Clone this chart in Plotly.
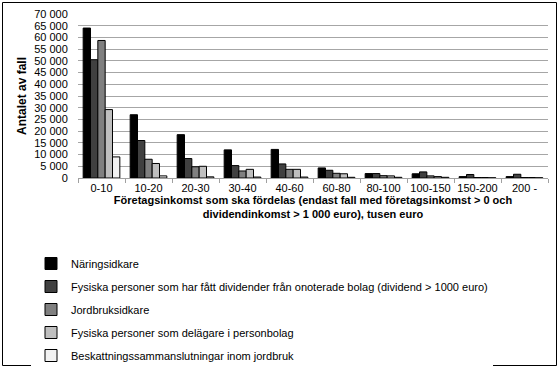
import plotly.graph_objects as go

categories = ["0-10", "10-20", "20-30", "30-40", "40-60", "60-80", "80-100", "100-150", "150-200", "200 -"]
series_names = [
    "Näringsidkare",
    "Fysiska personer som har fått dividender från onoterade bolag (dividend > 1000 euro)",
    "Jordbruksidkare",
    "Fysiska personer som delägare i personbolag",
    "Beskattningssammanslutningar inom jordbruk",
]
naringsidkare = [64000, 27000, 18500, 12000, 12200, 4300, 1900, 1800, 600, 600]
fysiska_dividend = [50500, 16000, 8300, 5300, 6000, 3300, 1900, 2600, 1500, 1600]
jordbruksidkare = [58700, 8000, 4800, 3000, 3700, 2000, 1000, 900, 200, 200]
fysiska_personbolag = [29200, 6200, 5000, 3700, 3700, 1800, 900, 600, 200, 200]
beskattning = [9000, 900, 500, 400, 400, 300, 300, 300, 100, 100]
y_ticks = list(range(0, 70001, 5000))
y_tick_labels = [f"{v:,}".replace(",", " ") for v in y_ticks]

colors = ["#000000", "#404040", "#808080", "#bfbfbf", "#f2f2f2"]
all_series = [naringsidkare, fysiska_dividend, jordbruksidkare, fysiska_personbolag, beskattning]

fig = go.Figure()
for i, (name, vals) in enumerate(zip(series_names, all_series)):
    fig.add_trace(go.Bar(
        x=categories, y=vals, name=name,
        marker=dict(color=colors[i], line=dict(color="#000000", width=1)),
        legendgroup=f"g{i}",
    ))

L, R, T, B = 78, 12, 14, 190
W, H = 560, 368
pw, ph = W - L - R, H - T - B

def px(x):
    return (x - L) / pw

def py(y):
    return (H - B - y) / ph

fig.update_layout(
    width=W, height=H,
    margin=dict(l=L, r=R, t=T, b=B, autoexpand=False),
    paper_bgcolor="white", plot_bgcolor="white",
    font=dict(family="Liberation Sans, Arial, sans-serif", size=11, color="#000000"),
    barmode="group", bargap=0.22, bargroupgap=0,
    showlegend=True,
    legend=dict(
        orientation="v", x=px(31), y=py(249), xanchor="left", yanchor="top",
        font=dict(size=11), tracegroupgap=4, traceorder="grouped",
        itemwidth=30,
    ),
    xaxis=dict(
        type="category", tickson="boundaries", ticks="outside", ticklen=4,
        tickcolor="#a0a0a0", showline=True, linecolor="#a0a0a0", linewidth=1,
        showgrid=False, tickfont=dict(size=11), tickangle=0,
        title=dict(
            text="<b>Företagsinkomst som ska fördelas (endast fall med företagsinkomst > 0 och<br>dividendinkomst > 1 000 euro), tusen euro</b>",
            font=dict(size=11), standoff=2,
        ),
    ),
    yaxis=dict(
        range=[0, 70000], tickvals=y_ticks, ticktext=y_tick_labels,
        showgrid=True, gridcolor="#a6a6a6", gridwidth=1,
        showline=False, zeroline=False, ticks="outside", ticklen=7,
        tickcolor="rgba(0,0,0,0)", tickfont=dict(size=11),
        title=dict(text="<b>Antalet av fall</b>", font=dict(size=12), standoff=4),
    ),
    shapes=[dict(
        type="rect", xref="paper", yref="paper",
        x0=px(2.5), x1=px(556.5), y0=py(365.5), y1=py(2.5),
        line=dict(color="#000000", width=1), fillcolor="rgba(0,0,0,0)", layer="below",
    )],
)

fig.write_html("out.html", post_script="document.body.style.margin='0';",
               config={"displayModeBar": False})
